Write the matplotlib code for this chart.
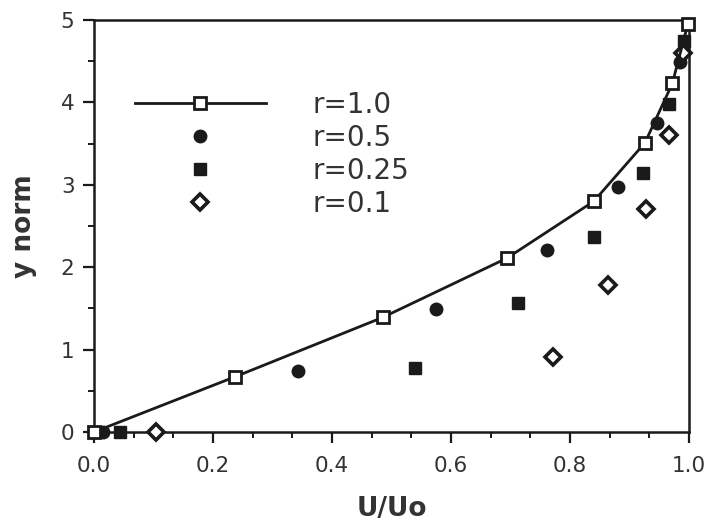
import matplotlib
matplotlib.use("Agg")
import matplotlib.pyplot as plt
from matplotlib.ticker import MultipleLocator, FormatStrFormatter

plt.rcParams['font.family'] = ['DejaVu Sans']

# r = 1.0 (open squares, joined by a line)
x_r10 = [0.0, 0.237, 0.485, 0.694, 0.840, 0.926, 0.972, 0.998]
y_r10 = [0.0, 0.67, 1.39, 2.11, 2.80, 3.51, 4.23, 4.95]
# r = 0.5 (filled circles)
x_r05 = [0.015, 0.343, 0.574, 0.762, 0.880, 0.947, 0.985]
y_r05 = [0.0, 0.74, 1.49, 2.21, 2.97, 3.75, 4.49]
# r = 0.25 (filled squares)
x_r025 = [0.044, 0.539, 0.712, 0.840, 0.923, 0.966, 0.992]
y_r025 = [0.0, 0.78, 1.57, 2.37, 3.14, 3.98, 4.74]
# r = 0.1 (open diamonds)
x_r01 = [0.104, 0.771, 0.864, 0.928, 0.966, 0.990]
y_r01 = [0.0, 0.91, 1.78, 2.71, 3.61, 4.60]

labels = ['r=1.0', 'r=0.5', 'r=0.25', 'r=0.1']
x_ticks = [0.0, 0.2, 0.4, 0.6, 0.8, 1.0]
y_ticks = [0, 1, 2, 3, 4, 5]

fig = plt.figure(figsize=(7.13, 5.27), dpi=100)
W, H = 713, 527
left, right, top, bottom = 94, 689, 20, 432
ax = fig.add_axes([left / W, 1 - bottom / H, (right - left) / W, (bottom - top) / H])

c = '#1a1a1a'
tc = '#333333'
ax.plot(x_r10, y_r10, '-', color=c, lw=2.0, marker='s', ms=8.5, mfc='white',
        mec=c, mew=2.0, label=labels[0], clip_on=False, zorder=5)
ax.plot(x_r05, y_r05, 'o', color=c, ms=9, mec=c, label=labels[1], clip_on=False, zorder=4)
ax.plot(x_r025, y_r025, 's', color=c, ms=9, mec=c, label=labels[2], clip_on=False, zorder=4)
ax.plot(x_r01, y_r01, 'D', color=c, ms=8, mfc='white', mec=c, mew=2.6,
        label=labels[3], clip_on=False, zorder=4)

ax.set_xlim(0, 1.0)
ax.set_ylim(0, 5)
ax.set_xticks(x_ticks)
ax.set_yticks(y_ticks)
ax.xaxis.set_major_formatter(FormatStrFormatter('%.1f'))
ax.xaxis.set_minor_locator(MultipleLocator(0.2 / 3))
ax.yaxis.set_minor_locator(MultipleLocator(0.5))

for s in ax.spines.values():
    s.set_linewidth(1.8)
    s.set_color(c)

ax.tick_params(which='major', direction='out', length=8, width=1.6, color=c,
               labelsize=15.5, labelcolor=tc, pad=6)
ax.tick_params(axis='x', which='major', pad=9)
ax.tick_params(which='minor', direction='out', length=4.5, width=1.4, color=c)
ax.tick_params(top=False, right=False, which='both')

ax.set_xlabel('U/Uo', fontsize=19, fontweight='bold', color=tc, labelpad=15)
ax.set_ylabel('y norm', fontsize=19, fontweight='bold', color=tc, labelpad=17)

leg = ax.legend(loc='upper left', bbox_to_anchor=(0.069, 0.828), frameon=False,
                fontsize=20, handlelength=4.7, handletextpad=1.7, labelspacing=0.18,
                numpoints=1, borderaxespad=0, borderpad=0)
for t in leg.get_texts():
    t.set_color(tc)

fig.savefig('out.png', dpi=100, facecolor='white')
